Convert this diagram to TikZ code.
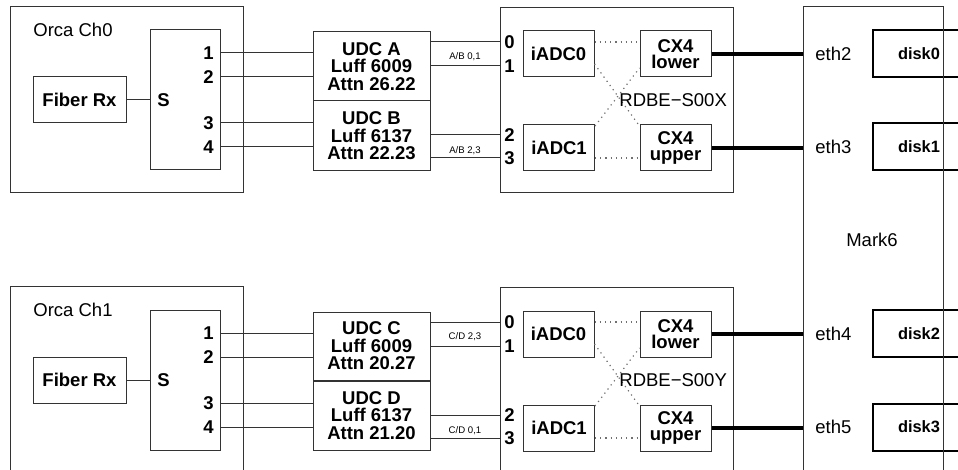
\documentclass[tikz,border=0pt]{standalone}
\usepackage{fontspec}
\setmainfont{Liberation Sans}
\usetikzlibrary{positioning}
\definecolor{frame}{HTML}{333333}
\definecolor{dots}{HTML}{707070}
\tikzset{
    box/.style={
        draw=frame,
        line width=0.5pt,
        inner sep=0pt
    },
    unit/.style={
        box,
        font=\fontsize{9.25}{8.75}\selectfont\bfseries,
        align=center
    },
    port/.style={
        font=\fontsize{9.25}{10}\selectfont\bfseries,
        inner sep=0pt
    },
    caption/.style={
        font=\fontsize{9.25}{10}\selectfont,
        inner sep=0pt
    },
    tag/.style={
        font=\fontsize{4.8}{5}\selectfont,
        inner sep=0pt
    },
    wire/.style={
        line width=0.5pt,
        color=frame
    },
    link/.style={
        line width=1.8pt
    },
    crossing/.style={
        dotted,
        line width=0.6pt,
        color=dots
    },
    disk/.style={
        draw,
        line width=1pt,
        inner sep=0pt,
        minimum width=46pt,
        minimum height=23.5pt,
        font=\fontsize{8.2}{9}\selectfont\bfseries
    }
}

\begin{document}
\begin{tikzpicture}[x=0.5pt,y=-0.5pt]

    \useasboundingbox (0,0) rectangle (958,470);
    \clip (0,0) rectangle (958,470);

    % Orca Ch0
    \node[box, minimum width=116.5pt, minimum height=93pt]
        (orcaA) at (126.5,100) {};
    \node[caption, anchor=west] (orcaAlbl) at (33,30) {Orca Ch0};
    \node[unit, minimum width=46.5pt, minimum height=23pt]
        (fiberA) at (79.5,100) {Fiber Rx};
    \node[box, minimum width=35pt, minimum height=70pt]
        (splitA) at (185,100) {};
    \node[port, anchor=west] (sA) at (157,100) {S};
    \node[port, anchor=east] (pA1) at (214,53) {1};
    \node[port, anchor=east] (pA2) at (214,77) {2};
    \node[port, anchor=east] (pA3) at (214,123) {3};
    \node[port, anchor=east] (pA4) at (214,147) {4};
    \draw[wire] (fiberA.east) -- (splitA.west);

    % UDC A / B
    \node[unit, minimum width=58.5pt, minimum height=34.5pt]
        (udcA) at (371.5,66.5) {UDC A\\Luff 6009\\Attn 26.22};
    \node[unit, minimum width=58.5pt, minimum height=35pt]
        (udcB) at (371.5,136) {UDC B\\Luff 6137\\Attn 22.23};
    \draw[wire] (splitA.east |- pA1) -- (udcA.west |- pA1);
    \draw[wire] (splitA.east |- pA2) -- (udcA.west |- pA2);
    \draw[wire] (splitA.east |- pA3) -- (udcB.west |- pA3);
    \draw[wire] (splitA.east |- pA4) -- (udcB.west |- pA4);

    % RDBE-S00X
    \node[box, minimum width=116.5pt, minimum height=92.5pt]
        (rdbeX) at (616.5,100.5) {};
    \node[port, anchor=east] (rX0) at (515,42) {0};
    \node[port, anchor=east] (rX1) at (515,66) {1};
    \node[port, anchor=east] (rX2) at (515,135) {2};
    \node[port, anchor=east] (rX3) at (515,158) {3};
    \draw[wire] (udcA.east |- rX0) -- (rdbeX.west |- rX0);
    \draw[wire] (udcA.east |- rX1) -- (rdbeX.west |- rX1);
    \draw[wire] (udcB.east |- rX2) -- (rdbeX.west |- rX2);
    \draw[wire] (udcB.east |- rX3) -- (rdbeX.west |- rX3);
    \node[tag] (tagAB01) at (465,57) {A/B 0,1};
    \node[tag] (tagAB23) at (465,151) {A/B 2,3};

    \node[unit, minimum width=35.5pt, minimum height=23pt]
        (iadcX0) at (558.5,54) {iADC0};
    \node[unit, minimum width=35.5pt, minimum height=23pt]
        (iadcX1) at (559,148) {iADC1};
    \node[unit, minimum width=35.5pt, minimum height=23pt,
        font=\fontsize{9.25}{8}\selectfont\bfseries]
        (cxXlo) at (675.5,54) {CX4\\lower};
    \node[unit, minimum width=35.5pt, minimum height=23pt,
        font=\fontsize{9.25}{8}\selectfont\bfseries]
        (cxXup) at (675.5,148) {CX4\\upper};
    \draw[crossing] ([yshift=6pt]iadcX0.east) -- ([yshift=6pt]cxXlo.west);
    \draw[crossing] ([yshift=-5pt]iadcX0.east) -- ([yshift=11pt]cxXup.west);
    \draw[crossing] ([yshift=11pt]iadcX1.east) -- ([yshift=-7pt]cxXlo.west);
    \draw[crossing] ([yshift=-5pt]iadcX1.east) -- ([yshift=-5pt]cxXup.west);
    \node[caption, anchor=west] (rdbeXlbl) at (619,100) {RDBE−S00X};

    % Orca Ch1
    \node[box, minimum width=116.5pt, minimum height=93pt]
        (orcaB) at (126.5,380) {};
    \node[caption, anchor=west] (orcaBlbl) at (33,310) {Orca Ch1};
    \node[unit, minimum width=46.5pt, minimum height=23pt]
        (fiberB) at (79.5,380) {Fiber Rx};
    \node[box, minimum width=35pt, minimum height=70pt]
        (splitB) at (185,380) {};
    \node[port, anchor=west] (sB) at (157,380) {S};
    \node[port, anchor=east] (pB1) at (214,333) {1};
    \node[port, anchor=east] (pB2) at (214,357) {2};
    \node[port, anchor=east] (pB3) at (214,403) {3};
    \node[port, anchor=east] (pB4) at (214,427) {4};
    \draw[wire] (fiberB.east) -- (splitB.west);

    % UDC C / D
    \node[unit, minimum width=58.5pt, minimum height=34pt]
        (udcC) at (371.5,346) {UDC C\\Luff 6009\\Attn 20.27};
    \node[unit, minimum width=58.5pt, minimum height=34.5pt]
        (udcD) at (371.5,415.5) {UDC D\\Luff 6137\\Attn 21.20};
    \draw[wire] (splitB.east |- pB1) -- (udcC.west |- pB1);
    \draw[wire] (splitB.east |- pB2) -- (udcC.west |- pB2);
    \draw[wire] (splitB.east |- pB3) -- (udcD.west |- pB3);
    \draw[wire] (splitB.east |- pB4) -- (udcD.west |- pB4);

    % RDBE-S00Y
    \node[box, minimum width=116.5pt, minimum height=92.5pt]
        (rdbeY) at (616.5,380.5) {};
    \node[port, anchor=east] (rY0) at (515,322) {0};
    \node[port, anchor=east] (rY1) at (515,346) {1};
    \node[port, anchor=east] (rY2) at (515,415) {2};
    \node[port, anchor=east] (rY3) at (515,438) {3};
    \draw[wire] (udcC.east |- rY0) -- (rdbeY.west |- rY0);
    \draw[wire] (udcC.east |- rY1) -- (rdbeY.west |- rY1);
    \draw[wire] (udcD.east |- rY2) -- (rdbeY.west |- rY2);
    \draw[wire] (udcD.east |- rY3) -- (rdbeY.west |- rY3);
    \node[tag] (tagCD23) at (465,337) {C/D 2,3};
    \node[tag] (tagCD01) at (465,431) {C/D 0,1};

    \node[unit, minimum width=35.5pt, minimum height=23pt]
        (iadcY0) at (558.5,334) {iADC0};
    \node[unit, minimum width=35.5pt, minimum height=23pt]
        (iadcY1) at (559,428) {iADC1};
    \node[unit, minimum width=35.5pt, minimum height=23pt,
        font=\fontsize{9.25}{8}\selectfont\bfseries]
        (cxYlo) at (675.5,334) {CX4\\lower};
    \node[unit, minimum width=35.5pt, minimum height=23pt,
        font=\fontsize{9.25}{8}\selectfont\bfseries]
        (cxYup) at (675.5,428) {CX4\\upper};
    \draw[crossing] ([yshift=6pt]iadcY0.east) -- ([yshift=6pt]cxYlo.west);
    \draw[crossing] ([yshift=-5pt]iadcY0.east) -- ([yshift=11pt]cxYup.west);
    \draw[crossing] ([yshift=11pt]iadcY1.east) -- ([yshift=-7pt]cxYlo.west);
    \draw[crossing] ([yshift=-5pt]iadcY1.east) -- ([yshift=-5pt]cxYup.west);
    \node[caption, anchor=west] (rdbeYlbl) at (619,380) {RDBE−S00Y};

    % Mark6
    \node[disk] (disk0) at (919,53.5) {disk0};
    \node[disk] (disk1) at (919,147) {disk1};
    \node[disk] (disk2) at (919,333.5) {disk2};
    \node[disk] (disk3) at (919,427) {disk3};
    \node[box, minimum width=70pt, minimum height=240pt]
        (mark) at (873,247) {};
    \node[caption] (marklbl) at (872,240) {Mark6};
    \node[caption, anchor=west] (eth2) at (815,54) {eth2};
    \node[caption, anchor=west] (eth3) at (815,147) {eth3};
    \node[caption, anchor=west] (eth4) at (815,334) {eth4};
    \node[caption, anchor=west] (eth5) at (815,427) {eth5};

    % Links
    \draw[link] (cxXlo.east) -- (mark.west |- cxXlo);
    \draw[link] (cxXup.east) -- (mark.west |- cxXup);
    \draw[link] (cxYlo.east) -- (mark.west |- cxYlo);
    \draw[link] (cxYup.east) -- (mark.west |- cxYup);

\end{tikzpicture}
\end{document}
